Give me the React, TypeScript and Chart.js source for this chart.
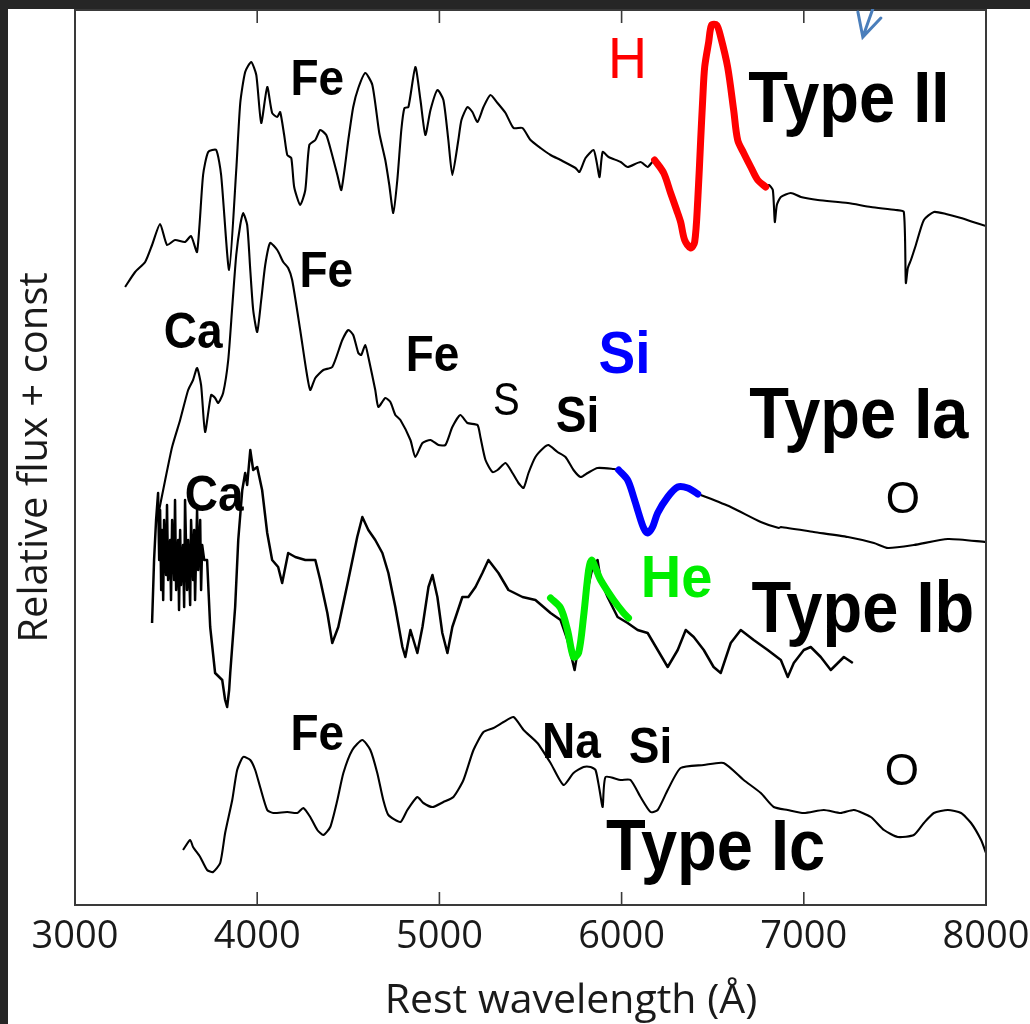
import React, { useEffect, useRef } from "react";
import { Chart, registerables } from "chart.js";
Chart.register(...registerables);

// ---------- Data (wavelength in Å, relative flux + const) ----------
const TYPE_II_WL = [3275,3330,3385,3423,3467,3505,3549,3604,3637,3670,3703,3731,3775,3802,3846,3885,3907,3934,3967,3995,4022,4055,4082,4110,4126,4148,4165,4187,4203,4236,4264,4286,4319,4346,4379,4407,4440,4462,4500,4527,4555,4593,4632,4670,4703,4725,4747,4769,4791,4808,4830,4868,4896,4923,4951,4989,5022,5049,5071,5104,5121,5154,5181,5209,5242,5280,5319,5363,5407,5456,5500,5555,5610,5665,5747,5769,5802,5846,5863,5879,5896,5929,5995,6033,6104,6143,6181,6231,6269,6302,6324,6346,6379,6401,6418,6434,6445,6456,6478,6494,6522,6544,6582,6615,6637,6670,6709,6747,6791,6808,6830,6841,6852,6874,6929,6984,7077,7242,7368,7505,7549,7560,7571,7588,7615,7659,7714,7780,7863,7929,8000];
const TYPE_II_FLUX = [6.18,6.33,6.43,6.60,6.81,6.60,6.65,6.63,6.69,6.53,7.30,7.53,7.55,7.30,6.35,7.35,8.02,8.33,8.43,8.30,7.82,8.18,7.92,7.88,7.93,7.70,7.50,7.47,7.18,7.00,7.15,7.60,7.65,7.75,7.70,7.53,7.30,7.15,7.65,7.98,8.17,8.32,8.20,7.72,7.45,7.20,6.92,7.25,7.75,7.97,7.98,8.38,8.05,7.70,7.95,8.15,8.05,7.65,7.30,7.65,7.85,7.98,7.93,7.83,7.98,8.10,8.02,7.92,7.77,7.77,7.65,7.57,7.50,7.45,7.37,7.33,7.47,7.55,7.43,7.28,7.53,7.48,7.43,7.38,7.43,7.38,7.45,7.32,7.12,6.95,6.83,6.65,6.57,6.63,7.05,7.65,8.05,8.38,8.63,8.80,8.80,8.68,8.38,7.95,7.65,7.52,7.38,7.25,7.18,7.20,7.15,6.83,7.00,7.08,7.12,7.08,7.05,7.02,6.98,6.95,6.93,6.22,6.37,6.45,6.60,6.85,6.93,6.91,6.87,6.83,6.79];

const TYPE_IA_WL = [3451,3495,3533,3577,3621,3648,3670,3692,3714,3747,3769,3786,3813,3841,3863,3885,3907,3923,3945,3962,3978,4000,4022,4044,4071,4110,4143,4170,4192,4236,4269,4291,4319,4363,4412,4467,4500,4527,4555,4571,4593,4610,4648,4665,4703,4731,4758,4786,4841,4868,4907,4951,4995,5033,5071,5115,5154,5209,5225,5253,5291,5319,5363,5401,5434,5462,5489,5527,5571,5599,5648,5692,5736,5775,5813,5868,5956,5984,6033,6066,6093,6121,6143,6170,6198,6253,6308,6363,6418,6434,6599,6764,6863,6874,7055,7242,7385,7462,7604,7791,8000];
const TYPE_IA_FLUX = [3.85,4.25,4.58,4.85,5.15,5.25,5.37,5.20,4.73,5.10,5.07,5.02,5.12,5.45,5.98,6.50,6.80,6.92,6.80,6.35,5.95,5.73,6.05,6.40,6.62,6.55,6.43,6.37,6.25,5.75,5.35,5.15,5.27,5.35,5.38,5.65,5.75,5.70,5.52,5.50,5.60,5.48,5.15,4.98,5.07,5.03,4.90,4.85,4.65,4.48,4.62,4.65,4.60,4.60,4.78,4.90,4.82,4.80,4.68,4.45,4.33,4.35,4.42,4.32,4.22,4.17,4.32,4.48,4.57,4.60,4.53,4.48,4.35,4.28,4.32,4.37,4.36,4.35,4.25,4.08,3.92,3.77,3.72,3.78,3.92,4.08,4.18,4.17,4.11,4.10,3.98,3.83,3.77,3.78,3.73,3.68,3.62,3.57,3.60,3.66,3.63];

const TYPE_IB_WL = [3423,3434,3445,3456,3462,3467,3473,3478,3484,3489,3500,3505,3511,3522,3527,3533,3544,3549,3555,3566,3571,3577,3582,3593,3599,3604,3615,3621,3632,3637,3648,3654,3659,3670,3676,3687,3692,3698,3709,3725,3742,3769,3808,3824,3835,3846,3852,3879,3896,3918,3934,3945,3962,3978,4000,4027,4055,4082,4115,4137,4170,4209,4264,4319,4346,4385,4412,4445,4500,4549,4577,4610,4648,4687,4720,4758,4797,4813,4841,4879,4907,4940,4962,4989,5016,5044,5071,5126,5159,5198,5236,5269,5324,5379,5456,5527,5610,5665,5703,5742,5775,5813,5841,5868,5885,5923,5978,6033,6088,6143,6198,6253,6308,6352,6396,6451,6505,6544,6599,6654,6725,6802,6874,6912,6945,7000,7038,7093,7148,7187,7220,7269];
const TYPE_IB_FLUX = [2.82,3.45,3.85,4.12,3.45,3.95,3.15,3.75,3.05,3.85,3.30,4.00,3.25,3.65,3.05,3.85,3.25,4.05,3.15,3.65,2.95,3.75,3.20,3.60,2.98,4.05,3.15,3.65,3.00,3.85,3.25,3.75,3.05,3.95,3.35,3.85,3.15,3.60,3.45,3.45,2.78,2.32,2.25,2.05,1.98,2.15,2.32,2.98,3.65,4.15,4.32,4.20,4.55,4.35,4.38,4.15,3.72,3.45,3.38,3.22,3.52,3.48,3.45,3.45,3.25,2.92,2.62,2.78,3.25,3.68,3.88,3.75,3.65,3.52,3.32,2.98,2.58,2.48,2.75,2.52,2.78,3.18,3.30,3.08,2.72,2.52,2.78,3.08,3.08,3.18,3.32,3.45,3.32,3.15,3.08,3.05,2.92,2.85,2.65,2.35,2.72,3.15,3.38,3.45,3.25,3.08,2.88,2.82,2.75,2.72,2.55,2.38,2.55,2.75,2.68,2.55,2.38,2.32,2.62,2.75,2.65,2.55,2.45,2.28,2.42,2.55,2.58,2.48,2.35,2.42,2.48,2.42];

const TYPE_IC_WL = [3593,3632,3648,3687,3725,3758,3797,3824,3863,3890,3923,3962,3989,4016,4055,4088,4165,4220,4253,4291,4330,4363,4401,4440,4473,4522,4577,4621,4659,4692,4720,4786,4824,4879,4912,4962,5022,5077,5132,5187,5242,5297,5352,5407,5462,5538,5610,5681,5736,5791,5830,5857,5879,5896,5912,5995,6049,6104,6159,6198,6253,6324,6451,6560,6670,6764,6835,6912,7000,7110,7203,7275,7368,7440,7516,7604,7659,7714,7791,7863,7918,7973,8000];
const TYPE_IC_FLUX = [0.55,0.65,0.58,0.48,0.35,0.33,0.42,0.72,1.05,1.35,1.48,1.45,1.35,1.18,0.95,0.92,0.93,0.92,0.97,0.88,0.75,0.70,0.78,1.05,1.32,1.55,1.65,1.55,1.32,1.05,0.90,0.83,0.95,1.08,1.02,0.98,1.03,1.08,1.25,1.55,1.73,1.77,1.83,1.88,1.75,1.62,1.42,1.20,1.32,1.38,1.38,1.35,1.15,0.98,1.28,1.25,1.25,1.08,0.93,0.95,1.15,1.37,1.40,1.42,1.25,1.12,0.98,0.95,0.92,0.95,0.92,0.95,0.88,0.75,0.68,0.70,0.82,0.92,0.95,0.92,0.82,0.65,0.52];

// highlighted line features
const H_RANGE = [6181, 6791];   // H-alpha P-Cygni profile on Type II
const SI_RANGE = [5984, 6418];  // Si II trough on Type Ia
const HE_WL = [5610,5665,5703,5736,5764,5791,5819,5835,5857,5885,5956,6011,6038];
const HE_FLUX = [3.07,2.97,2.75,2.48,2.52,2.88,3.35,3.45,3.37,3.25,3.05,2.92,2.87];

// axis
const X_TICKS = [3000, 4000, 5000, 6000, 7000, 8000];
const X_TITLE = "Rest wavelength (Å)";
const Y_TITLE = "Relative flux + const";

// annotations (text, wavelength, flux at baseline, style)
const LABEL_TEXT = ["Fe", "H", "Type II", "Fe", "Ca", "Fe", "S", "Si", "Si", "Type Ia", "O", "Ca", "He", "Type Ib", "Fe", "Na", "Si", "O", "Type Ic"];
const LABEL_WL = [4330, 6033, 7247, 4379, 3648, 4962, 5368, 5758, 6016, 7302, 7544, 3764, 6302, 7324, 4330, 5725, 6159, 7538, 6516];
const LABEL_FLUX = [8.10, 8.27, 7.83, 6.18, 5.57, 5.34, 4.90, 4.73, 5.32, 4.67, 3.92, 3.94, 3.08, 2.73, 1.55, 1.47, 1.42, 1.20, 0.35];
const LABEL_STYLE = ["ion", "h", "type", "ion", "ion", "ion", "s", "ion", "siBlue", "type", "o", "ion", "he", "type", "ion", "ion", "ion", "o", "type"];

const ARROW_WL = [7396, 7324, 7297, 7423];
const ARROW_FLUX = [9.05, 8.68, 8.93, 8.87];

const STYLES: Record<string, { font: string; color: string; sy: number }> = {
  type: { font: 'bold 65px "Liberation Sans", Arial, sans-serif', color: "#000000", sy: 1.12 },
  ion: { font: 'bold 46px "Liberation Sans", Arial, sans-serif', color: "#000000", sy: 1.08 },
  siBlue: { font: 'bold 55px "Liberation Sans", Arial, sans-serif', color: "#0000ff", sy: 1.08 },
  he: { font: 'bold 56px "Liberation Sans", Arial, sans-serif', color: "#00ee00", sy: 1.05 },
  h: { font: '54px "Liberation Sans", Arial, sans-serif', color: "#ff0000", sy: 1.05 },
  s: { font: '40px "Liberation Sans", Arial, sans-serif', color: "#000000", sy: 1.15 },
  o: { font: '44px "Liberation Sans", Arial, sans-serif', color: "#000000", sy: 1.0 },
};

const zip = (xs: number[], ys: number[]) => xs.map((x, i) => ({ x, y: ys[i] }));
const inRange = (xs: number[], ys: number[], r: number[]) =>
  zip(xs, ys).filter((p) => p.x >= r[0] && p.x <= r[1]);

function drawText(ctx: CanvasRenderingContext2D, text: string, x: number, y: number, font: string, color: string, sy: number) {
  ctx.save();
  ctx.translate(x, y);
  ctx.scale(1, sy);
  ctx.font = font;
  ctx.fillStyle = color;
  ctx.textAlign = "center";
  ctx.textBaseline = "alphabetic";
  ctx.fillText(text, 0, 0);
  ctx.restore();
}

const decor = {
  id: "decor",
  beforeDraw(chart: any) {
    const { ctx, width, height } = chart;
    ctx.save();
    ctx.fillStyle = "#ffffff";
    ctx.fillRect(0, 0, width, height);
    ctx.restore();
  },
  afterDraw(chart: any) {
    const { ctx, chartArea, width, height } = chart;
    const xs = chart.scales.x;
    const ys = chart.scales.y;
    const { left, right, top, bottom } = chartArea;
    ctx.save();
    // frame
    ctx.strokeStyle = "#3a3a3a";
    ctx.lineWidth = 2;
    ctx.strokeRect(left, top, right - left, bottom - top);
    // inward ticks + labels
    ctx.lineWidth = 1.6;
    X_TICKS.forEach((v) => {
      const px = xs.getPixelForValue(v);
      ctx.beginPath();
      ctx.moveTo(px, bottom);
      ctx.lineTo(px, bottom - 13);
      ctx.moveTo(px, top);
      ctx.lineTo(px, top + 13);
      ctx.stroke();
      drawText(ctx, String(v), px, bottom + 43, '38px "Open Sans", sans-serif', "#1a1a1a", 1);
    });
    // axis titles
    drawText(ctx, X_TITLE, left + 496, bottom + 108, '41px "Open Sans", sans-serif', "#1a1a1a", 1);
    ctx.save();
    ctx.translate(47, (top + bottom) / 2);
    ctx.rotate(-Math.PI / 2);
    drawText(ctx, Y_TITLE, 0, 0, '40px "Open Sans", sans-serif', "#1a1a1a", 1);
    ctx.restore();
    // annotations
    LABEL_TEXT.forEach((t, i) => {
      const st = STYLES[LABEL_STYLE[i]];
      drawText(ctx, t, xs.getPixelForValue(LABEL_WL[i]), ys.getPixelForValue(LABEL_FLUX[i]), st.font, st.color, st.sy);
    });
    // blue arrow
    const ap = ARROW_WL.map((w, i) => [xs.getPixelForValue(w), ys.getPixelForValue(ARROW_FLUX[i])]);
    ctx.strokeStyle = "#4a7ebb";
    ctx.lineWidth = 3;
    ctx.lineCap = "round";
    ctx.beginPath();
    ctx.moveTo(ap[0][0], ap[0][1]);
    ctx.lineTo(ap[1][0], ap[1][1]);
    ctx.moveTo(ap[2][0], ap[2][1]);
    ctx.lineTo(ap[1][0], ap[1][1]);
    ctx.lineTo(ap[3][0], ap[3][1]);
    ctx.stroke();
    // dark frame of the picture
    ctx.fillStyle = "#262626";
    ctx.fillRect(0, 0, width, 9);
    ctx.fillRect(0, 0, 8, height);
    ctx.restore();
  },
};

export default function App() {
  const ref = useRef<HTMLCanvasElement>(null);
  useEffect(() => {
    if (!ref.current) return;
    const black = (data: any[], w: number, tension: number) => ({
      data,
      borderColor: "#000000",
      borderWidth: w,
      pointRadius: 0,
      tension,
      order: 2,
      borderJoinStyle: "round" as const,
    });
    const colored = (data: any[], color: string) => ({
      data,
      borderColor: color,
      borderWidth: 7,
      pointRadius: 0,
      tension: 0.3,
      order: 1,
      borderCapStyle: "round" as const,
      borderJoinStyle: "round" as const,
    });
    const chart = new Chart(ref.current, {
      type: "line",
      data: {
        datasets: [
          { label: "Type II", ...black(zip(TYPE_II_WL, TYPE_II_FLUX), 2.1, 0.2) },
          { label: "Type Ia", ...black(zip(TYPE_IA_WL, TYPE_IA_FLUX), 2.1, 0.2) },
          { label: "Type Ib", ...black(zip(TYPE_IB_WL, TYPE_IB_FLUX), 2.5, 0) },
          { label: "Type Ic", ...black(zip(TYPE_IC_WL, TYPE_IC_FLUX), 2.1, 0.2) },
          { label: "H", ...colored(inRange(TYPE_II_WL, TYPE_II_FLUX, H_RANGE), "#ff0000") },
          { label: "Si", ...colored(inRange(TYPE_IA_WL, TYPE_IA_FLUX, SI_RANGE), "#0000ff") },
          { label: "He", ...colored(zip(HE_WL, HE_FLUX), "#00ee00") },
        ],
      },
      options: {
        animation: false,
        responsive: false,
        events: [],
        layout: { padding: { left: 75, top: 10, right: 44, bottom: 119 } },
        plugins: { legend: { display: false }, tooltip: { enabled: false }, title: { display: false } },
        scales: {
          x: { type: "linear", min: 3000, max: 8000, display: false },
          y: { type: "linear", min: 0, max: 8.95, display: false },
        },
      },
      plugins: [decor],
    });
    return () => chart.destroy();
  }, []);
  return (
    <div style={{ position: "absolute", left: 0, top: 0, width: 1030, height: 1024, background: "#fff" }}>
      <canvas ref={ref} width={1030} height={1024} style={{ display: "block", width: 1030, height: 1024 }} />
    </div>
  );
}
